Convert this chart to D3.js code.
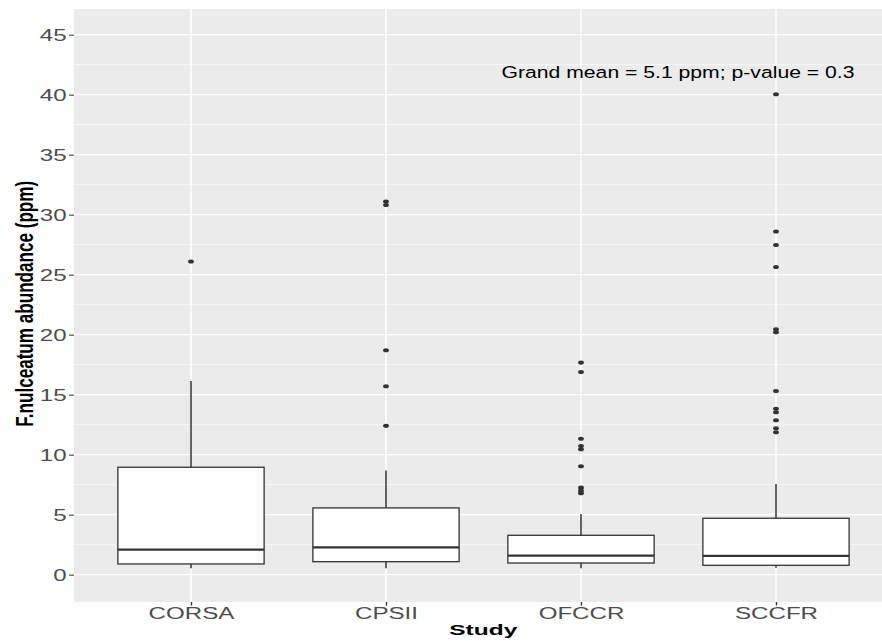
<!DOCTYPE html>
<html>
<head>
<meta charset="utf-8">
<script src="https://cdn.jsdelivr.net/npm/d3@7"></script>
<style>
  html, body { margin: 0; padding: 0; background: #fff; }
  svg { display: block; font-family: "Liberation Sans", Arial, sans-serif; }
</style>
</head>
<body>
<svg id="chart" width="882" height="641"></svg>
<script>
// ---- data ----
const categories = ["CORSA", "CPSII", "OFCCR", "SCCFR"];
const whiskerLow  = [0.53, 0.53, 0.53, 0.58];
const q1          = [0.89, 1.08, 0.97, 0.78];
const median      = [2.08, 2.28, 1.58, 1.56];
const q3          = [8.95, 5.56, 3.28, 4.70];
const whiskerHigh = [16.14, 8.67, 5.06, 7.56];
const outliersCORSA = [26.1];
const outliersCPSII = [31.1, 30.8, 18.7, 15.7, 12.4];
const outliersOFCCR = [17.67, 16.89, 11.33, 10.72, 10.45, 9.03, 7.25, 7.0, 6.78];
const outliersSCCFR = [40.03, 28.6, 27.47, 25.64, 20.45, 20.2, 15.3, 13.83, 13.53, 12.87, 12.2, 11.87];
const yTicks = [0, 5, 10, 15, 20, 25, 30, 35, 40, 45];
const yMinorTicks = [2.5, 7.5, 12.5, 17.5, 22.5, 27.5, 32.5, 37.5, 42.5];
const annotation = "Grand mean = 5.1 ppm; p-value = 0.3";
const xTitle = "Study";
const yTitle = "F.nulceatum abundance (ppm)";

const outliers = [outliersCORSA, outliersCPSII, outliersOFCCR, outliersSCCFR];
const boxes = categories.map((c, i) => ({
  cat: c, lo: whiskerLow[i], q1: q1[i], med: median[i], q3: q3[i], hi: whiskerHigh[i], out: outliers[i]
}));

// ---- layout ----
const panel = { left: 74, right: 893, top: 9, bottom: 602 };
const sx = 1.42; // horizontal text stretch of the reference

const svg = d3.select("#chart");
const x = d3.scalePoint().domain(categories).range([panel.left, panel.right]).padding(0.6);
const y = d3.scaleLinear().domain([-2.28, 47.14]).range([panel.bottom, panel.top]);
const boxW = x.step() * 0.75;

// panel background
svg.append("rect")
  .attr("x", panel.left).attr("y", panel.top)
  .attr("width", panel.right - panel.left).attr("height", panel.bottom - panel.top)
  .attr("fill", "#EBEBEB");

// grid
const grid = svg.append("g");
grid.selectAll(".minor").data(yMinorTicks).join("line")
  .attr("x1", panel.left).attr("x2", panel.right)
  .attr("y1", d => y(d)).attr("y2", d => y(d))
  .attr("stroke", "#fff").attr("stroke-width", 0.6);
grid.selectAll(".major").data(yTicks).join("line")
  .attr("x1", panel.left).attr("x2", panel.right)
  .attr("y1", d => y(d)).attr("y2", d => y(d))
  .attr("stroke", "#fff").attr("stroke-width", 1.15);
grid.selectAll(".vmajor").data(categories).join("line")
  .attr("x1", d => x(d)).attr("x2", d => x(d))
  .attr("y1", panel.top).attr("y2", panel.bottom)
  .attr("stroke", "#fff").attr("stroke-width", 1.6);

// boxes
const bg = svg.append("g").selectAll("g").data(boxes).join("g");
const stroke = "#333333";
bg.append("line")
  .attr("x1", d => x(d.cat)).attr("x2", d => x(d.cat))
  .attr("y1", d => y(d.q3)).attr("y2", d => y(d.hi))
  .attr("stroke", stroke).attr("stroke-width", 1.5);
bg.append("line")
  .attr("x1", d => x(d.cat)).attr("x2", d => x(d.cat))
  .attr("y1", d => y(d.q1)).attr("y2", d => y(d.lo))
  .attr("stroke", stroke).attr("stroke-width", 1.5);
bg.append("rect")
  .attr("x", d => x(d.cat) - boxW / 2).attr("width", boxW)
  .attr("y", d => y(d.q3)).attr("height", d => y(d.q1) - y(d.q3))
  .attr("fill", "#fff").attr("stroke", stroke).attr("stroke-width", 1.3);
bg.append("line")
  .attr("x1", d => x(d.cat) - boxW / 2).attr("x2", d => x(d.cat) + boxW / 2)
  .attr("y1", d => y(d.med)).attr("y2", d => y(d.med))
  .attr("stroke", stroke).attr("stroke-width", 2.3);
bg.selectAll("ellipse").data(d => d.out.map(v => ({ cat: d.cat, v }))).join("ellipse")
  .attr("cx", d => x(d.cat)).attr("cy", d => y(d.v))
  .attr("rx", 2.9).attr("ry", 2.05)
  .attr("fill", stroke);

// y axis
const yAxis = svg.append("g")
  .attr("transform", `translate(${panel.left},0)`)
  .call(d3.axisLeft(y).tickValues(yTicks).tickSize(5).tickPadding(2).tickFormat(d3.format("d")));
yAxis.select(".domain").remove();
yAxis.selectAll(".tick line").attr("stroke", "#333").attr("stroke-width", 1);
yAxis.selectAll(".tick text")
  .attr("x", -7.3 / sx)
  .attr("transform", `scale(${sx},1)`)
  .attr("dy", "0.36em")
  .attr("fill", "#4D4D4D").attr("font-size", 17)
  .attr("font-family", "Liberation Sans, Arial, sans-serif");

// x axis
const xAxis = svg.append("g")
  .attr("transform", `translate(0,${panel.bottom})`)
  .call(d3.axisBottom(x).tickSize(3.5).tickPadding(2));
xAxis.select(".domain").remove();
xAxis.selectAll(".tick line").attr("stroke", "#333").attr("stroke-width", 1.4);
xAxis.selectAll(".tick text")
  .attr("y", 17).attr("dy", 0)
  .attr("transform", `scale(${sx},1)`)
  .attr("fill", "#4D4D4D").attr("font-size", 17)
  .attr("font-family", "Liberation Sans, Arial, sans-serif");

// annotation
svg.append("text")
  .attr("x", 678).attr("y", 78)
  .attr("text-anchor", "middle")
  .attr("font-size", 16.3)
  .attr("textLength", 353).attr("lengthAdjust", "spacingAndGlyphs")
  .attr("fill", "#000")
  .text(annotation);

// x title
svg.append("text")
  .attr("x", 483.3).attr("y", 635)
  .attr("text-anchor", "middle")
  .attr("font-size", 15).attr("font-weight", "bold")
  .attr("textLength", 68).attr("lengthAdjust", "spacingAndGlyphs")
  .attr("fill", "#000")
  .text(xTitle);

// y title
svg.append("text")
  .attr("transform", `translate(33.3,303.8) scale(1.37,1) rotate(-90)`)
  .attr("text-anchor", "middle")
  .attr("font-size", 17).attr("font-weight", "bold")
  .attr("textLength", 246).attr("lengthAdjust", "spacingAndGlyphs")
  .attr("fill", "#000")
  .text(yTitle);
</script>
</body>
</html>
